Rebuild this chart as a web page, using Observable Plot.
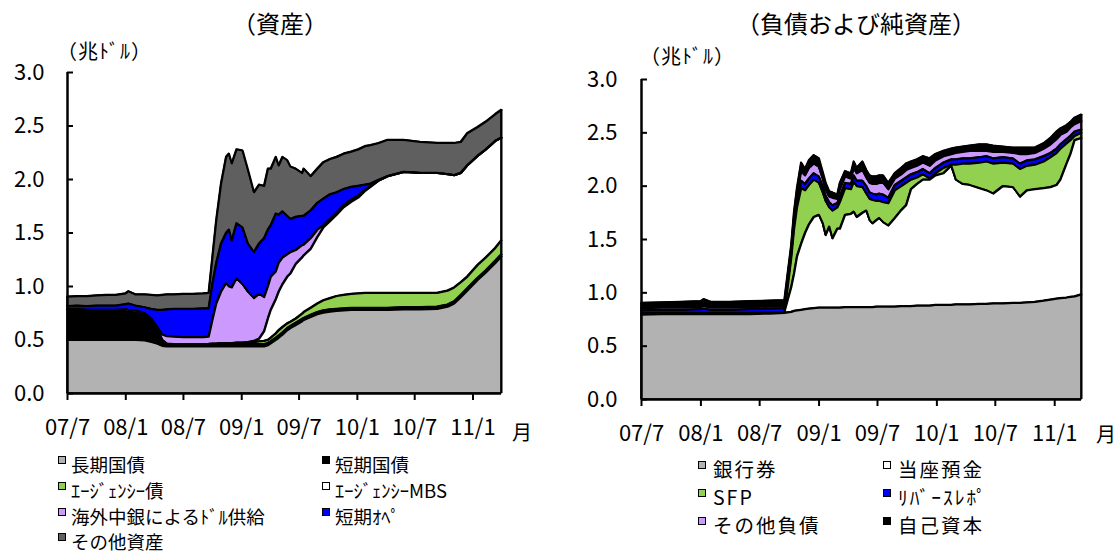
<!DOCTYPE html>
<html><head><meta charset="utf-8">
<script src="https://cdn.jsdelivr.net/npm/d3@7"></script>
<script src="https://cdn.jsdelivr.net/npm/@observablehq/plot@0.6"></script>
<style>
body{margin:0;background:#fff;}
#wrap{position:relative;width:1119px;height:554px;overflow:hidden;font-family:"Noto Sans CJK JP",sans-serif;color:#000;background:#fff;}
.abs{position:absolute;white-space:nowrap;line-height:1;}
.title{font-size:24px;transform:translateX(-50%);}
.unit{font-size:20px;letter-spacing:1px;}
.month{font-size:20px;}
.leg{position:absolute;white-space:nowrap;line-height:20px;height:20px;}
.leg .sw{position:absolute;left:0;top:2px;width:6px;height:6px;border:1px solid #000;}
.leg .tx{position:absolute;top:0;}
</style></head>
<body><div id="wrap"></div>
<script>
// ---------- DATA: assets (兆ドル) ----------
const assetDates = ["2007-07-01","2007-08-01","2007-09-01","2007-10-01","2007-11-01","2007-12-01","2008-01-01","2008-01-10","2008-02-01","2008-03-01","2008-03-22","2008-04-10","2008-04-25","2008-05-10","2008-06-01","2008-07-01","2008-08-01","2008-09-01","2008-09-19",
"2008-10-01","2008-10-13","2008-10-28","2008-11-13","2008-11-22","2008-12-01","2008-12-16","2009-01-04","2009-01-21","2009-02-09","2009-02-25","2009-03-13","2009-03-25",
"2009-04-03","2009-04-19","2009-04-28","2009-05-10","2009-05-25","2009-06-04","2009-06-21","2009-07-11","2009-07-16","2009-08-07","2009-08-28","2009-09-16","2009-10-07","2009-10-28","2009-11-19","2009-12-13","2010-01-04","2010-01-25","2010-02-12","2010-03-10","2010-04-07","2010-05-28","2010-07-19","2010-09-10","2010-10-13","2010-11-03","2010-11-24","2010-12-14","2011-01-16","2011-02-11","2011-03-13","2011-04-01"];
const longTermTreasuries = [.50,.50,.50,.50,.50,.50,.50,.50,.50,.495,.48,.465,.445,.44,.44,.44,.44,.44,.44,
.44,.44,.44,.44,.44,.44,.44,.44,.44,.44,.44,.44,.45,
.467,.50,.52,.55,.59,.61,.64,.675,.685,.715,.74,.755,.765,.77,.775,.78,.78,.78,.78,.78,.78,.785,.785,.79,.81,.84,.90,.96,1.06,1.13,1.22,1.28];
const shortTermTreasuries = [.285,.285,.28,.28,.28,.275,.265,.26,.255,.235,.20,.135,.055,.025,.02,.02,.02,.02,.02,
.02,.02,.02,.02,.02,.02,.02,.02,.02,.02,.02,.02,.02,
.02,.02,.02,.02,.02,.02,.02,.02,.02,.02,.02,.02,.02,.02,.02,.02,.02,.02,.02,.02,.02,.02,.02,.02,.02,.02,.02,.02,.02,.02,.02,.02];
const agencyDebt = [0,0,0,0,0,0,0,0,0,0,0,0,0,0,0,0,0,0,.002,
.005,.005,.01,.01,.01,.01,.015,.015,.02,.02,.025,.03,.03,
.033,.04,.05,.05,.044,.04,.04,.05,.055,.065,.08,.095,.105,.12,.125,.13,.135,.14,.14,.14,.14,.135,.135,.13,.13,.13,.12,.11,.12,.12,.12,.13];
const agencyMBS = [0,0,0,0,0,0,0,0,0,0,0,0,0,0,0,0,0,0,0,
0,0,0,0,0,0,0,0,0,.01,.025,.09,.20,
.26,.32,.36,.40,.436,.45,.51,.525,.53,.55,.62,.68,.72,.76,.82,.86,.895,.95,.99,1.05,1.09,1.13,1.12,1.12,1.09,1.05,1.02,1.04,1.02,1.01,1.00,.96];
const dollarSwaps = [0,0,0,0,0,.005,.02,.02,.02,.02,.02,.02,.05,.07,.07,.065,.065,.065,.068,
.225,.375,.48,.56,.53,.52,.60,.545,.47,.40,.42,.32,.30,
.31,.26,.27,.25,.21,.20,.13,.115,.10,.10,.07,.02,.02,.02,.02,.02,.02,.01,.005,0,0,0,0,0,0,0,0,0,0,0,0,0];
const shortTermOps = [.03,.035,.035,.04,.04,.04,.05,.06,.045,.055,.09,.16,.23,.25,.26,.265,.265,.27,.265,
.34,.38,.45,.47,.53,.44,.515,.53,.45,.43,.47,.55,.53,
.48,.54,.45,.43,.36,.31,.31,.275,.27,.26,.25,.25,.23,.19,.15,.12,.09,.05,.025,.005,0,0,0,0,0,0,0,0,0,0,0,0];
const otherAssets = [.09,.09,.095,.095,.10,.10,.10,.115,.105,.12,.13,.135,.14,.14,.135,.14,.14,.14,.145,
.25,.40,.56,.71,.71,.72,.69,.72,.69,.56,.55,.49,.57,
.53,.53,.46,.51,.52,.49,.45,.40,.44,.32,.32,.34,.33,.33,.33,.33,.34,.36,.36,.345,.34,.30,.29,.28,.29,.30,.29,.30,.27,.26,.25,.26];

// ---------- DATA: liabilities and capital (兆ドル) ----------
const liabDates = ["2007-07-01","2007-09-01","2007-11-01","2008-01-01","2008-01-10","2008-02-01","2008-04-01","2008-06-01","2008-08-01","2008-09-16",
"2008-09-25","2008-10-07","2008-10-16","2008-10-25","2008-11-07","2008-11-19","2008-12-01","2008-12-16","2009-01-01","2009-01-13","2009-01-22","2009-02-02","2009-02-12","2009-02-27","2009-03-07","2009-03-23","2009-04-10","2009-04-19","2009-04-28","2009-05-16","2009-05-28","2009-06-07","2009-06-16","2009-06-28","2009-07-07","2009-07-19","2009-08-04","2009-08-24","2009-09-13","2009-09-28",
"2009-10-13","2009-11-01","2009-11-19","2009-12-10","2009-12-28","2010-01-22","2010-02-15","2010-03-01","2010-03-22","2010-04-13","2010-05-13","2010-06-04","2010-06-25","2010-07-25","2010-08-25","2010-09-16","2010-10-07","2010-11-01","2010-11-28","2010-12-19","2011-01-07","2011-01-19","2011-02-07","2011-02-19","2011-03-04","2011-03-25"];
const banknotes = [.795,.80,.80,.80,.80,.80,.80,.80,.805,.81,
.815,.82,.83,.835,.84,.845,.85,.855,.86,.86,.86,.86,.86,.86,.86,.865,.865,.865,.865,.865,.865,.865,.865,.87,.87,.87,.87,.87,.875,.875,
.875,.88,.88,.88,.885,.885,.885,.89,.89,.89,.895,.895,.90,.90,.905,.905,.91,.915,.925,.935,.945,.95,.955,.96,.965,.985];
const reserveBalances = [.01,.01,.01,.01,.01,.01,.01,.01,.01,.01,
.105,.23,.35,.505,.62,.715,.79,.855,.87,.79,.68,.76,.65,.74,.74,.865,.875,.895,.845,.885,.905,.815,.785,.81,.83,.79,.76,.83,.90,.945,
1.095,1.14,1.18,1.18,1.215,1.235,1.305,1.17,1.13,1.12,1.085,1.065,1.03,1.10,1.085,.995,1.05,1.055,1.055,1.055,1.065,1.11,1.255,1.34,1.465,1.465];
const sfpBalances = [0,0,0,0,0,0,0,0,0,0,
.10,.27,.42,.46,.52,.40,.37,.35,.30,.29,.32,.18,.26,.20,.25,.25,.23,.28,.29,.24,.16,.20,.22,.18,.16,.19,.21,.26,.225,.21,
.09,.06,.05,.01,.02,.05,.01,.14,.19,.20,.24,.27,.28,.22,.22,.26,.23,.23,.25,.28,.30,.29,.19,.13,.04,.05];
const reverseRepos = [.03,.03,.03,.035,.04,.03,.03,.035,.035,.035,
.05,.04,.05,.06,.07,.06,.06,.06,.06,.06,.05,.05,.05,.04,.05,.05,.05,.06,.05,.06,.07,.06,.06,.06,.07,.07,.05,.05,.05,.05,
.05,.05,.05,.05,.05,.05,.05,.05,.05,.05,.05,.05,.05,.05,.05,.05,.05,.05,.05,.04,.04,.04,.04,.04,.04,.03];
const otherLiabilities = [.02,.02,.02,.02,.025,.02,.02,.02,.02,.02,
.03,.03,.05,.06,.09,.08,.10,.09,.09,.07,.06,.05,.07,.04,.07,.06,.05,.07,.07,.10,.08,.09,.09,.10,.10,.11,.08,.06,.06,.07,
.06,.06,.06,.07,.07,.06,.05,.06,.06,.07,.06,.05,.06,.05,.05,.09,.06,.06,.07,.08,.09,.09,.07,.08,.07,.08];
const capitalAccounts = [.05,.05,.055,.055,.065,.055,.055,.055,.055,.055,
.05,.05,.06,.06,.08,.06,.07,.08,.08,.06,.06,.05,.05,.04,.06,.05,.05,.06,.05,.08,.07,.07,.07,.07,.07,.07,.06,.05,.06,.06,
.06,.06,.06,.07,.06,.05,.05,.05,.05,.05,.06,.06,.06,.05,.05,.06,.06,.05,.05,.06,.07,.06,.06,.05,.06,.06];

// ---------- names, colours, ticks ----------
const assetNames = ["長期国債","短期国債","ｴｰｼﾞｪﾝｼｰ債","ｴｰｼﾞｪﾝｼｰMBS","海外中銀によるﾄﾞﾙ供給","短期ｵﾍﾟ","その他資産"];
const assetColors = ["#b2b2b2","#000000","#92d050","#ffffff","#cc99ff","#0000ff","#5f5f5f"];
const liabNames = ["銀行券","当座預金","SFP","ﾘﾊﾞｰｽﾚﾎﾟ","その他負債","自己資本"];
const liabColors = ["#b2b2b2","#ffffff","#92d050","#0000ff","#cc99ff","#000000"];
const xTickDates = ["2007-07-01","2008-01-01","2008-07-01","2009-01-01","2009-07-01","2010-01-01","2010-07-01","2011-01-01"];
const xTickLabels = ["07/7","08/1","08/7","09/1","09/7","10/1","10/7","11/1"];
const yTicks = [0,0.5,1,1.5,2,2.5,3];

// ---------- build ----------
const wrap = document.getElementById("wrap");
function toRows(dates, names, arrays) {
  const rows = [];
  names.forEach((name, k) => dates.forEach((d, i) => rows.push({date: new Date(d), series: name, value: arrays[k][i]})));
  return rows;
}
const xTicks = xTickDates.map(d => new Date(d));
const xLabel = d => { const i = xTicks.findIndex(t => +t === +d); return i >= 0 ? xTickLabels[i] : ""; };

function makeChart(o) {
  const lastDate = o.rows.reduce((m, r) => (r.date > m ? r.date : m), o.rows[0].date);
  const lastTotal = d3.sum(o.rows.filter(r => +r.date === +lastDate), r => r.value);
  const svg = Plot.plot({
    width: o.width, height: o.height,
    marginLeft: o.ml, marginRight: o.mr, marginTop: o.mt, marginBottom: o.mb,
    style: {fontFamily: '"Noto Sans CJK JP", sans-serif', fontSize: "22px", background: "transparent", color: "#000", overflow: "visible"},
    x: {type: "utc", domain: o.xDomain},
    y: {domain: [0, 3]},
    color: {domain: o.names, range: o.colors},
    marks: [
      Plot.areaY(o.rows, {x: "date", y: "value", z: "series", fill: "series", order: o.names, stroke: "#000", strokeWidth: 1.5, strokeLinejoin: "round"}),
      Plot.lineY(o.rows, Plot.stackY2({x: "date", y: "value", z: "series", order: o.names, stroke: "#000", strokeWidth: 2, strokeLinejoin: "round"})),
      Plot.ruleX([lastDate], {y1: 0, y2: lastTotal, stroke: "#000", strokeWidth: 2}),
      Plot.ruleY([0], {stroke: "#000", strokeWidth: 2.5}),
      Plot.ruleX([o.xDomain[0]], {y1: 0, y2: 3, stroke: "#000", strokeWidth: 2.5}),
      Plot.axisY({ticks: yTicks, tickSize: -6, tickPadding: o.yPad, tickFormat: d3.format(".1f"), label: null, strokeWidth: 2, fontSize: 22}),
      Plot.axisX({ticks: xTicks, tickSize: 7, tickPadding: 19, tickFormat: xLabel, label: null, strokeWidth: 2, fontSize: 22})
    ]
  });
  svg.style.position = "absolute";
  svg.style.left = o.left + "px";
  svg.style.top = "0px";
  wrap.appendChild(svg);
}

makeChart({
  rows: toRows(assetDates, assetNames, [longTermTreasuries, shortTermTreasuries, agencyDebt, agencyMBS, dollarSwaps, shortTermOps, otherAssets]),
  names: assetNames, colors: assetColors,
  xDomain: [new Date("2007-07-01"), new Date("2011-04-01")],
  left: 0, width: 560, height: 450, ml: 67, mr: 59, mt: 72, mb: 57, yPad: 29
});
makeChart({
  rows: toRows(liabDates, liabNames, [banknotes, reserveBalances, sfpBalances, reverseRepos, otherLiabilities, capitalAccounts]),
  names: liabNames, colors: liabColors,
  xDomain: [new Date("2007-07-01"), new Date("2011-03-25")],
  left: 560, width: 559, height: 460, ml: 81, mr: 38, mt: 79, mb: 61, yPad: 30
});

function addText(cls, text, x, y) {
  const el = document.createElement("div");
  el.className = "abs " + cls;
  el.textContent = text;
  el.style.left = x + "px";
  el.style.top = y + "px";
  wrap.appendChild(el);
}
addText("title", "（資産）", 280, 11);
addText("title", "（負債および純資産）", 856, 11);
addText("unit", "（兆ﾄﾞﾙ）", 57, 41);
addText("unit", "（兆ﾄﾞﾙ）", 640, 46);
addText("month", "月", 512, 422);
addText("month", "月", 1096, 424);

function addLegend(names, colors, colX, rowY, textOffset, spacing, size) {
  names.forEach((name, i) => {
    const item = document.createElement("div");
    item.className = "leg";
    item.style.left = colX[i % 2] + "px";
    item.style.top = (rowY[Math.floor(i / 2)] - 10) + "px";
    item.style.fontSize = size + "px";
    const sw = document.createElement("span");
    sw.className = "sw";
    sw.style.background = colors[i];
    const tx = document.createElement("span");
    tx.className = "tx";
    tx.style.left = textOffset + "px";
    tx.style.letterSpacing = spacing + "px";
    tx.textContent = name;
    item.appendChild(sw);
    item.appendChild(tx);
    wrap.appendChild(item);
  });
}
addLegend(assetNames, assetColors, [58, 322], [464, 490, 516, 541], 13, 0, 18.5);
addLegend(liabNames, liabColors, [698, 883], [469, 497, 525], 15, 2, 19.5);
</script></body></html>
